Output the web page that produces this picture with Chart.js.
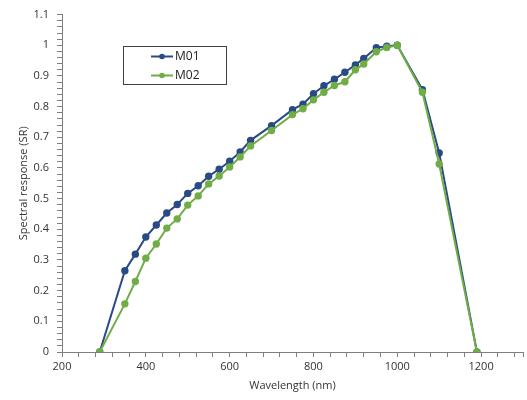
<!DOCTYPE html>
<html>
<head>
<meta charset="utf-8">
<script src="https://cdn.jsdelivr.net/npm/chart.js@4/dist/chart.umd.min.js"></script>
<style>
  html, body { margin: 0; padding: 0; background: #fff; }
  #chart { display: block; }
</style>
</head>
<body>
<canvas id="chart" width="527" height="400"></canvas>
<script>
// wavelength (nm) of each measured point
var wavelengths = [290, 350, 375, 400, 425, 450, 475, 500, 525, 550, 575, 600, 625, 650,
  700, 750, 775, 800, 825, 850, 875, 900, 920, 950, 975, 1000, 1060, 1100, 1190];

// spectral response, normalised
var m01 = [0, 0.265, 0.319, 0.375, 0.414, 0.453, 0.481, 0.517, 0.542, 0.573, 0.596, 0.622, 0.652, 0.690,
  0.738, 0.790, 0.808, 0.842, 0.868, 0.889, 0.912, 0.936, 0.957, 0.992, 0.997, 1.0, 0.855, 0.649, 0];
var m02 = [0, 0.157, 0.230, 0.306, 0.352, 0.404, 0.434, 0.479, 0.509, 0.548, 0.574, 0.603, 0.636, 0.672,
  0.722, 0.774, 0.793, 0.822, 0.847, 0.869, 0.881, 0.920, 0.939, 0.979, 0.993, 1.0, 0.847, 0.613, 0];

var seriesNames = ['M01', 'M02'];

// axis ticks (major ones get a label, the rest are minor marks)
var xMajor = [200, 400, 600, 800, 1000, 1200];
var yMajor = [0, 0.1, 0.2, 0.3, 0.4, 0.5, 0.6, 0.7, 0.8, 0.9, 1, 1.1];

var xTicks = [];
for (var v = 200; v < 1300; v += 40) xTicks.push(v);
xTicks.push(1300);
var yTicks = [];
for (var k = 0; k <= 55; k++) yTicks.push(Math.round(k * 2) / 100);

function toPoints(xs, ys) {
  var pts = [];
  for (var i in xs) pts.push({x: xs[i], y: ys[i]});
  return pts;
}

var FONT = '"Open Sans", "DejaVu Sans", sans-serif';
var AXIS = '#7f7f7f';
var TEXT = '#333333';

// legend drawn as a framed box inside the plot, like the original
var boxLegend = {
  id: 'boxLegend',
  afterDraw: function(chart) {
    var ctx = chart.ctx;
    ctx.save();
    ctx.strokeStyle = '#404040';
    ctx.lineWidth = 1;
    ctx.strokeRect(123.5, 46.5, 103, 38);
    ctx.font = '12px ' + FONT;
    ctx.textBaseline = 'middle';
    chart.data.datasets.forEach(function(ds, i) {
      var y = 56.5 + i * 19;
      ctx.strokeStyle = ds.borderColor;
      ctx.lineWidth = 2;
      ctx.beginPath();
      ctx.moveTo(151, y);
      ctx.lineTo(173, y);
      ctx.stroke();
      ctx.fillStyle = ds.backgroundColor;
      ctx.beginPath();
      ctx.arc(162, y, 2.8, 0, Math.PI * 2);
      ctx.fill();
      ctx.fillStyle = '#222';
      ctx.fillText(ds.label, 175, y + 0.5);
    });
    ctx.restore();
  }
};

var chart = new Chart(document.getElementById('chart'), {
  type: 'line',
  data: {
    datasets: [{
      label: seriesNames[0],
      data: toPoints(wavelengths, m01),
      borderColor: '#2A4A85',
      backgroundColor: '#2A4A85',
      borderWidth: 2,
      pointRadius: 3.7,
      pointBorderWidth: 0,
      tension: 0,
      order: 2
    }, {
      label: seriesNames[1],
      data: toPoints(wavelengths, m02),
      borderColor: '#70AD47',
      backgroundColor: '#70AD47',
      borderWidth: 2,
      pointRadius: 3.7,
      pointBorderWidth: 0,
      tension: 0,
      order: 1
    }]
  },
  options: {
    responsive: false,
    animation: false,
    devicePixelRatio: 1,
    layout: { padding: { top: 13, right: 0, left: 0, bottom: 0 } },
    plugins: { legend: { display: false }, tooltip: { enabled: false } },
    scales: {
      x: {
        type: 'linear',
        min: 200,
        max: 1300,
        afterBuildTicks: function(s) { s.ticks = xTicks.map(function(t) { return {value: t}; }); },
        afterFit: function(s) { s.height = 48; },
        grid: { drawOnChartArea: false, drawTicks: true, tickLength: 5, color: AXIS },
        border: { display: true, color: AXIS, width: 1 },
        ticks: {
          autoSkip: false,
          maxRotation: 0,
          padding: 3,
          color: TEXT,
          font: { family: FONT, size: 11 },
          callback: function(val) { return xMajor.indexOf(val) >= 0 ? String(val) : ''; }
        },
        title: {
          display: true,
          text: 'Wavelength (nm)',
          color: TEXT,
          font: { family: FONT, size: 11 },
          padding: { top: 0, bottom: 8 }
        }
      },
      y: {
        type: 'linear',
        min: 0,
        max: 1.1,
        afterBuildTicks: function(s) { s.ticks = yTicks.map(function(t) { return {value: t}; }); },
        afterFit: function(s) { s.width = 62; },
        grid: { drawOnChartArea: false, drawTicks: true, tickLength: 5, color: AXIS },
        border: { display: true, color: AXIS, width: 1 },
        ticks: {
          autoSkip: false,
          padding: 8,
          color: TEXT,
          font: { family: FONT, size: 11 },
          callback: function(val) {
            var r = Math.round(val * 100);
            return r % 10 === 0 ? String(r / 100) : '';
          }
        },
        title: {
          display: true,
          text: 'Spectral response (SR)',
          color: TEXT,
          font: { family: FONT, size: 11 },
          padding: { top: 17, bottom: 0 }
        }
      }
    }
  },
  plugins: [boxLegend]
});
</script>
</body>
</html>
